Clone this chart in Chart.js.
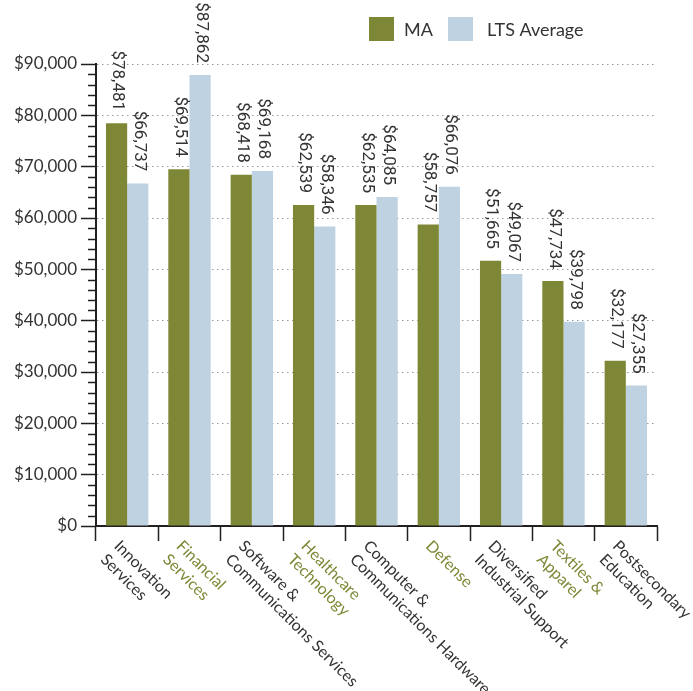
<!DOCTYPE html>
<html>
<head>
<meta charset="utf-8">
<script src="https://cdn.jsdelivr.net/npm/chart.js@4"></script>
<style>
  html, body { margin: 0; padding: 0; background: #fff; }
  #wrap { width: 693px; height: 691px; position: relative; }
</style>
</head>
<body>
<div id="wrap"><canvas id="salaryChart"></canvas></div>
<script>
const categories = [
    ['Innovation', 'Services'],
    ['Financial', 'Services'],
    ['Software &', 'Communications Services'],
    ['Healthcare', 'Technology'],
    ['Computer &', 'Communications Hardware'],
    ['Defense'],
    ['Diversified', 'Industrial Support'],
    ['Textiles &', 'Apparel'],
    ['Postsecondary', 'Education']
];
const maValues = [78481, 69514, 68418, 62539, 62535, 58757, 51665, 47734, 32177];
const ltsValues = [66737, 87862, 69168, 58346, 64085, 66076, 49067, 39798, 27355];
const yTicks = [0, 10000, 20000, 30000, 40000, 50000, 60000, 70000, 80000, 90000];

const GREEN = '#7e8735';
const BLUE = '#bfd2e2';
const INK = '#333333';
const AXIS = '#231f20';

function money(v) {
    return '$' + v.toLocaleString('en-US');
}

// value labels, rotated, sitting above each bar
const barLabels = {
    id: 'barLabels',
    afterDatasetsDraw(chart) {
        let ctx = chart.ctx;
        ctx.save();
        ctx.font = '17px Roboto';
        ctx.fillStyle = INK;
        ctx.textAlign = 'right';
        ctx.textBaseline = 'middle';
        chart.data.datasets.forEach((ds, di) => {
            chart.getDatasetMeta(di).data.forEach((bar, i) => {
                ctx.save();
                ctx.translate(bar.x + 1, bar.y - 12);
                ctx.rotate(Math.PI / 2);
                ctx.fillText(money(ds.data[i]), 0, 0);
                ctx.restore();
            });
        });
        ctx.restore();
    }
};

// slanted category names below the x axis, and minor y ticks
const axisExtras = {
    id: 'axisExtras',
    afterDraw(chart) {
        let ctx = chart.ctx;
        let x = chart.scales.x;
        let y = chart.scales.y;
        ctx.save();
        ctx.font = '16px Lato';
        ctx.textAlign = 'left';
        ctx.textBaseline = 'alphabetic';
        categories.forEach((lines, i) => {
            let cx = x.getPixelForValue(i);
            ctx.save();
            ctx.translate(cx - 14, y.bottom + 21);
            ctx.rotate(Math.PI / 4);
            ctx.fillStyle = i % 2 === 1 ? GREEN : INK;
            lines.forEach((line, li) => ctx.fillText(line, 0, li * 19));
            ctx.restore();
        });

        ctx.strokeStyle = AXIS;
        ctx.lineWidth = 1.5;
        for (let v = 2000; v < 90000; v += 2000) {
            if (v % 10000 === 0) continue;
            let py = Math.round(y.getPixelForValue(v)) + 0.5;
            ctx.beginPath();
            ctx.moveTo(y.right - 8, py);
            ctx.lineTo(y.right, py);
            ctx.stroke();
        }
        ctx.restore();
    }
};

// legend boxes at the top right
const topLegend = {
    id: 'topLegend',
    afterDraw(chart) {
        let ctx = chart.ctx;
        let spots = [369, 448];
        ctx.save();
        ctx.font = '18px Lato';
        ctx.textBaseline = 'middle';
        chart.data.datasets.forEach((ds, i) => {
            ctx.fillStyle = ds.backgroundColor;
            ctx.fillRect(spots[i], 17, 25, 24);
            ctx.fillStyle = INK;
            ctx.fillText(ds.label, spots[i] + 35 + (i === 1 ? 4 : 0), 30);
        });
        ctx.restore();
    }
};

let ctx = document.getElementById('salaryChart').getContext('2d');
let chartInstance = new Chart(ctx, {
    type: 'bar',
    data: {
        labels: categories,
        datasets: [{
            label: 'MA',
            data: maValues,
            backgroundColor: GREEN,
            categoryPercentage: 0.68,
            barPercentage: 1
        }, {
            label: 'LTS Average',
            data: ltsValues,
            backgroundColor: BLUE,
            categoryPercentage: 0.68,
            barPercentage: 1
        }]
    },
    options: {
        responsive: true,
        maintainAspectRatio: false,
        animation: false,
        layout: {
            padding: { top: 64, right: 36, left: 0, bottom: 0 }
        },
        plugins: {
            legend: { display: false },
            tooltip: { enabled: false }
        },
        scales: {
            x: {
                afterFit: s => { s.height = 165; },
                ticks: { display: false },
                grid: {
                    display: true,
                    offset: true,
                    drawOnChartArea: false,
                    tickLength: 15,
                    tickColor: AXIS,
                    tickWidth: 1.5
                },
                border: { display: true, color: AXIS, width: 2 }
            },
            y: {
                min: 0,
                max: 90000,
                afterFit: s => { s.width = 96; },
                afterBuildTicks: s => { s.ticks = yTicks.map(v => ({ value: v })); },
                ticks: {
                    padding: 4,
                    color: INK,
                    font: { family: 'Lato', size: 17 },
                    callback: v => money(v)
                },
                grid: {
                    color: '#9a9a9a',
                    lineWidth: 1,
                    tickLength: 15,
                    tickColor: AXIS,
                    tickWidth: 1.5
                },
                border: { display: true, color: AXIS, width: 2, dash: [1.5, 3.5] }
            }
        }
    },
    plugins: [barLabels, axisExtras, topLegend]
});
</script>
</body>
</html>
